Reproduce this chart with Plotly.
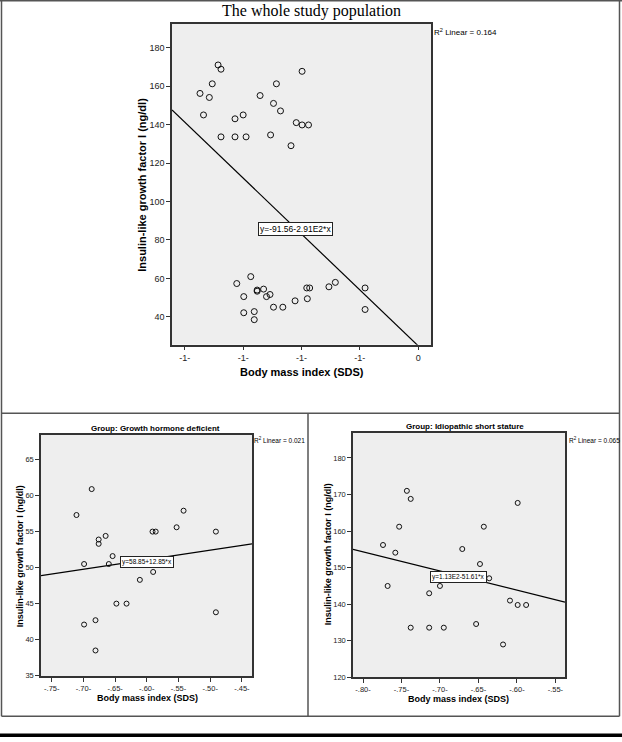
import plotly.graph_objects as go

W, H = 622, 742

# Growth hormone deficient group: BMI (SDS) and IGF-I (ng/dl)
ghd_bmi = [-0.711, -0.699, -0.699, -0.687, -0.681, -0.681, -0.676, -0.676, -0.665, -0.660, -0.654,
           -0.648, -0.632, -0.611, -0.590, -0.591, -0.586, -0.553, -0.542, -0.491, -0.491]
ghd_igf = [57.3, 50.5, 42.1, 60.9, 42.7, 38.5, 53.9, 53.3, 54.4, 50.5, 51.6,
           45.0, 45.0, 48.3, 49.4, 55.0, 55.0, 55.6, 57.9, 55.0, 43.8]

# Idiopathic short stature group
iss_bmi = [-0.774, -0.768, -0.758, -0.753, -0.743, -0.738, -0.738, -0.714, -0.714, -0.700, -0.695,
           -0.671, -0.653, -0.648, -0.643, -0.636, -0.618, -0.609, -0.599, -0.599, -0.588]
iss_igf = [156.2, 145.0, 154.1, 161.2, 171.0, 168.8, 133.6, 143.0, 133.6, 145.0, 133.6,
           155.1, 134.6, 151.0, 161.2, 147.1, 129.0, 141.0, 139.8, 167.7, 139.8]

# whole study population = both groups
all_bmi = ghd_bmi + iss_bmi
all_igf = ghd_igf + iss_igf

# linear fit lines (end points)
all_fit_x = [-0.822, -0.400]
all_fit_y = [147.6, 24.9]
ghd_fit_x = [-0.767, -0.434]
ghd_fit_y = [48.9, 53.3]
iss_fit_x = [-0.813, -0.5375]
iss_fit_y = [155.0, 140.6]

all_eq, ghd_eq, iss_eq = "y=-91.56-2.91E2*x", "y=58.85+12.85*x", "y=1.13E2-51.61*x"
all_r2, ghd_r2, iss_r2 = "0.164", "0.021", "0.065"

# tick labels as SPSS printed them
all_xticks = [-0.8, -0.7, -0.6, -0.5, -0.4]
all_xlabels = ["-1-", "-1-", "-1-", "-1-", "0"]
ghd_xticks = [-0.75, -0.70, -0.65, -0.60, -0.55, -0.50, -0.45]
ghd_xlabels = ["-.75-", "-.70-", "-.65-", "-.60-", "-.55-", "-.50-", "-.45-"]
iss_xticks = [-0.80, -0.75, -0.70, -0.65, -0.60, -0.55]
iss_xlabels = ["-.80-", "-.75-", "-.70-", "-.65-", "-.60-", "-.55-"]

FONT = "Liberation Sans"
YTITLE = "Insulin-like growth factor I (ng/dl)"
XTITLE = "Body mass index (SDS)"


def px(x):
    return x / W


def py(y):
    return 1 - y / H


def axis_style(size, **kw):
    d = dict(showline=True, mirror=True, linecolor="#333333", linewidth=1.5,
             ticks="outside", ticklen=4, tickcolor="#333333", tickwidth=1,
             showgrid=False, zeroline=False,
             tickfont=dict(size=size, color="#222222", family=FONT))
    d.update(kw)
    return d


def label(text, x, y, size, family=FONT, **kw):
    d = dict(text=text, x=px(x), y=py(y), xref="paper", yref="paper", showarrow=False,
             xanchor="center", yanchor="middle", font=dict(family=family, size=size, color="black"))
    d.update(kw)
    return d


fig = go.Figure()

panels = [
    ("", all_bmi, all_igf, all_fit_x, all_fit_y, 6),
    ("2", ghd_bmi, ghd_igf, ghd_fit_x, ghd_fit_y, 5),
    ("3", iss_bmi, iss_igf, iss_fit_x, iss_fit_y, 5),
]
for ax, xs, ys, fx, fy, msize in panels:
    fig.add_trace(go.Scatter(x=fx, y=fy, mode="lines", line=dict(color="black", width=1.2),
                             xaxis="x" + ax, yaxis="y" + ax, hoverinfo="skip"))
    fig.add_trace(go.Scatter(x=xs, y=ys, mode="markers",
                             marker=dict(symbol="circle-open", size=msize, color="#111111",
                                         line=dict(width=1)),
                             xaxis="x" + ax, yaxis="y" + ax))

fig.update_layout(
    width=W, height=H,
    margin=dict(l=0, r=0, t=0, b=0),
    paper_bgcolor="white",
    plot_bgcolor="#EEEEEE",
    showlegend=False,
    xaxis=axis_style(9, domain=[px(172), px(431)], range=[-0.822, -0.378],
                     tickvals=all_xticks, ticktext=all_xlabels, anchor="y"),
    yaxis=axis_style(9, domain=[py(347), py(24)], range=[25.5, 192.4],
                     dtick=20, tick0=0, anchor="x"),
    xaxis2=axis_style(7.5, domain=[px(41), px(252)], range=[-0.767, -0.434],
                      tickvals=ghd_xticks, ticktext=ghd_xlabels, anchor="y2"),
    yaxis2=axis_style(7.5, domain=[py(681), py(438)], range=[34.9, 68.4],
                      dtick=5, tick0=0, anchor="x2"),
    xaxis3=axis_style(7.5, domain=[px(353), px(565)], range=[-0.813, -0.5375],
                      tickvals=iss_xticks, ticktext=iss_xlabels, anchor="y3"),
    yaxis3=axis_style(7.5, domain=[py(682), py(436)], range=[120, 186.8],
                      dtick=10, tick0=0, anchor="x3"),
)

ann = []
# main title
ann.append(label("The whole study population", 311, 11, 16, family="Liberation Serif"))
# panel titles
ann.append(label("<b>Group: Growth hormone deficient</b>", 155, 431, 8))
ann.append(label("<b>Group: Idiopathic short stature</b>", 465, 429, 8))
# axis titles
for xt, yt, xx, yx, size in [(302, 375, 142, 186, 11), (147, 703, 20, 560, 9), (459, 704, 328, 558, 9)]:
    ann.append(label("<b>" + XTITLE + "</b>", xt, yt, size))
    ann.append(label("<b>" + YTITLE + "</b>", xx, yx, size, textangle=-90))
# R squared labels
for r2, xl, yl, size in [(all_r2, 432, 32, 8), (ghd_r2, 252, 443, 6.5), (iss_r2, 567, 443, 6.5)]:
    ann.append(label("R<sup>2</sup> Linear = " + r2, xl, yl, size, xanchor="left"))
# equation boxes
for eq, ax, ex, ey, size in [(all_eq, "", -0.610, 85.7, 8.5), (ghd_eq, "2", -0.600, 50.8, 6.5),
                             (iss_eq, "3", -0.676, 147.4, 6.5)]:
    ann.append(dict(text=eq, x=ex, y=ey, xref="x" + ax, yref="y" + ax, showarrow=False,
                    xanchor="center", yanchor="middle",
                    bgcolor="white", bordercolor="#222222", borderwidth=1, borderpad=1,
                    font=dict(family=FONT, size=size, color="black")))
fig.update_layout(annotations=ann)

# figure frame
frame = "#555555"
shapes = [
    dict(type="line", x0=0, x1=1, y0=py(0.75), y1=py(0.75)),
    dict(type="line", x0=px(1.5), x1=px(1.5), y0=py(0), y1=py(721)),
    dict(type="line", x0=px(619.5), x1=px(619.5), y0=py(0), y1=py(721)),
    dict(type="line", x0=px(1.5), x1=px(619.5), y0=py(416), y1=py(416)),
    dict(type="line", x0=px(308), x1=px(308), y0=py(416), y1=py(721)),
    dict(type="line", x0=px(1.5), x1=px(619.5), y0=py(721), y1=py(721)),
]
for s in shapes:
    s.update(xref="paper", yref="paper", line=dict(color=frame, width=1.5))
shapes.append(dict(type="rect", xref="paper", yref="paper", x0=0, x1=1, y0=0, y1=py(738.5),
                   fillcolor="black", line=dict(width=0)))
fig.update_layout(shapes=shapes)

fig.write_html("out.html", config={"displayModeBar": False},
               post_script="document.body.style.margin='0';document.body.style.overflow='hidden';")
